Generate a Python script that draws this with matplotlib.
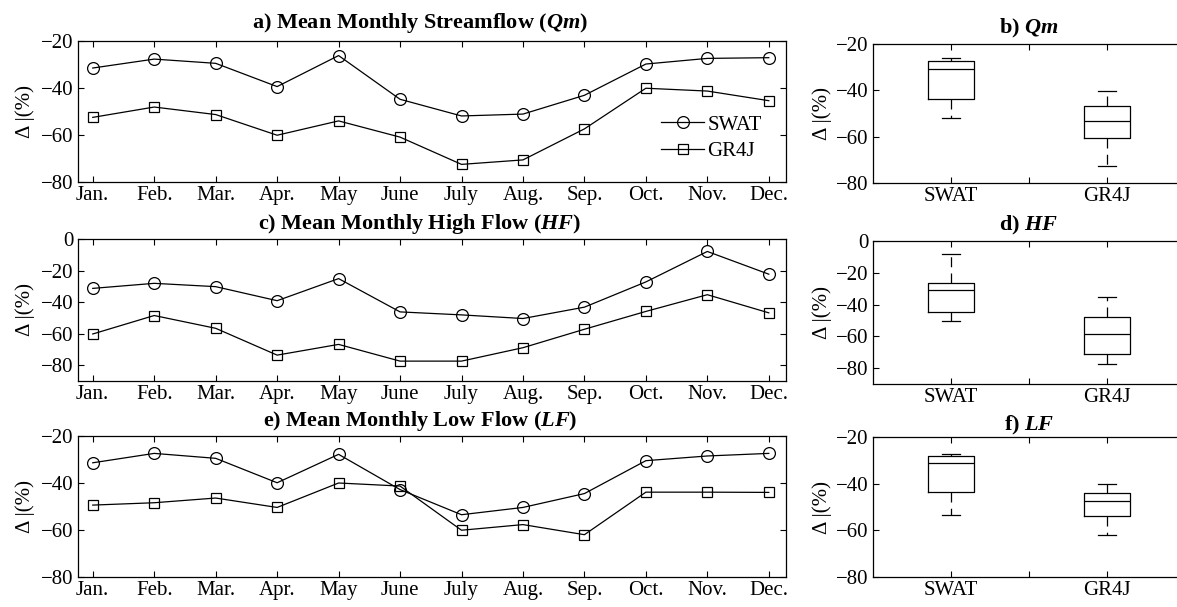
import numpy as np
import matplotlib
matplotlib.use("Agg")
import matplotlib.pyplot as plt

# --- data ---
months = ["Jan.", "Feb.", "Mar.", "Apr.", "May", "June",
          "July", "Aug.", "Sep.", "Oct.", "Nov.", "Dec."]
models = ["SWAT", "GR4J"]

qm_swat = [-31.5, -27.7, -29.5, -39.4, -26.2, -44.8, -51.9, -51.1, -43.1, -29.8, -27.4, -27.1]
qm_gr4j = [-52.5, -48.1, -51.3, -60.1, -54.0, -60.9, -72.5, -70.6, -57.4, -40.1, -41.3, -45.4]

hf_swat = [-31.3, -28.1, -30.2, -39.1, -25.1, -46.2, -48.1, -50.4, -43.2, -27.2, -7.9, -22.3]
hf_gr4j = [-60.2, -48.5, -56.6, -73.6, -66.8, -77.4, -77.4, -68.9, -57.2, -45.9, -35.3, -46.8]

lf_swat = [-31.4, -27.4, -29.5, -39.9, -27.8, -42.8, -53.5, -50.4, -44.5, -30.5, -28.5, -27.4]
lf_gr4j = [-49.4, -48.4, -46.4, -50.4, -40.0, -41.3, -60.1, -57.7, -62.0, -43.9, -43.9, -44.0]

line_titles = [r"a) Mean Monthly Streamflow ($\mathbfit{Qm}$)",
               r"c) Mean Monthly High Flow ($\mathbfit{HF}$)",
               r"e) Mean Monthly Low Flow ($\mathbfit{LF}$)"]
box_titles = [r"b) $\mathbfit{Qm}$", r"d) $\mathbfit{HF}$", r"f) $\mathbfit{LF}$"]

ylims = [(-80, -20), (-90, 0), (-80, -20)]
yticks = [[-80, -60, -40, -20], [-80, -60, -40, -20, 0], [-80, -60, -40, -20]]

# --- style ---
plt.rcParams["font.family"] = ["Liberation Serif", "DejaVu Serif"]
plt.rcParams["mathtext.fontset"] = "custom"
plt.rcParams["mathtext.rm"] = "Liberation Serif"
plt.rcParams["mathtext.it"] = "Liberation Serif:italic"
plt.rcParams["mathtext.bf"] = "Liberation Serif:bold"
plt.rcParams["mathtext.bfit"] = "Liberation Serif:bold:italic"
plt.rcParams["axes.linewidth"] = 0.9
plt.rcParams["font.size"] = 15

W, H = 1177, 607
fig = plt.figure(figsize=(W / 100, H / 100), dpi=100)


def px_axes(left, top, right, bottom):
    return fig.add_axes([left / W, 1 - bottom / H, (right - left) / W, (bottom - top) / H])


rows = [(41, 182), (239, 381), (436, 577)]
box_rows = [(44, 183), (241, 384), (437, 577)]
line_pads = [9.4, 7.2, 7.0]
box_pads = [7.9, 7.9, 5.0]


def box_stats(vals):
    v = np.asarray(vals)
    q1, med, q3 = np.percentile(v, [25, 50, 75], method="hazen")
    return dict(med=med, q1=q1, q3=q3, whislo=v.min(), whishi=v.max(), fliers=[])


def style_ticks(ax):
    ax.tick_params(direction="in", top=True, right=True, length=4, width=0.8,
                   labelsize=15, pad=3)


series = [(qm_swat, qm_gr4j), (hf_swat, hf_gr4j), (lf_swat, lf_gr4j)]
x = np.arange(1, len(months) + 1)

for i, (swat, gr4j) in enumerate(series):
    top, bottom = rows[i]
    ax = px_axes(78, top, 786, bottom)
    ax.plot(x, swat, "-o", color="black", lw=0.9, ms=8.5, mfc="none", mew=0.9, label=models[0])
    ax.plot(x, gr4j, "-s", color="black", lw=0.9, ms=7, mfc="none", mew=0.9, label=models[1])
    ax.set_xlim(0.76, 12.28)
    ax.set_ylim(*ylims[i])
    ax.set_yticks(yticks[i])
    ax.set_xticks(x)
    ax.set_xticklabels(months)
    style_ticks(ax)
    ax.set_ylabel("Δ |(%)", fontsize=15)
    ax.yaxis.set_label_coords(-0.061, 0.5)
    ax.set_title(line_titles[i], fontsize=16, fontweight="bold", pad=line_pads[i], x=0.483)
    if i == 0:
        ax.legend(loc="upper right", bbox_to_anchor=(0.966, 0.475), frameon=False,
                  handlelength=2.1, handletextpad=0.15, labelspacing=0.33,
                  borderpad=0, borderaxespad=0, fontsize=15)

    top, bottom = box_rows[i]
    bx = px_axes(873, top, 1185, bottom)
    stats = [box_stats(swat), box_stats(gr4j)]
    bx.bxp(stats, positions=[1, 2], widths=0.29, capwidths=0.11, showfliers=False,
           boxprops=dict(color="black", lw=0.9),
           medianprops=dict(color="black", lw=0.9),
           whiskerprops=dict(color="black", lw=0.9, linestyle=(0, (8, 5))),
           capprops=dict(color="black", lw=0.9))
    bx.set_xlim(0.5, 2.5)
    bx.set_ylim(*ylims[i])
    bx.set_yticks(yticks[i])
    bx.set_xticks([1, 1.5, 2])
    bx.set_xticklabels([models[0], "", models[1]])
    style_ticks(bx)
    bx.set_ylabel("Δ |(%)", fontsize=15)
    bx.yaxis.set_label_coords(-0.131, 0.5)
    bx.set_title(box_titles[i], fontsize=16, fontweight="bold", pad=box_pads[i])

fig.savefig("out.png", dpi=100)
